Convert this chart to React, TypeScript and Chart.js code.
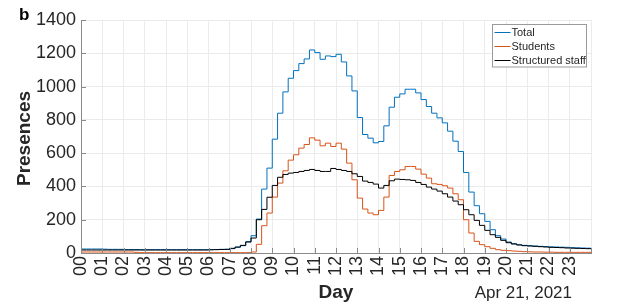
import React, { useEffect, useRef } from 'react';
import { Chart, registerables } from 'chart.js';

Chart.register(...registerables);

// ---- data (15-minute slots over one day) ----
const HOUR_LABELS = ['00','01','02','03','04','05','06','07','08','09','10','11','12','13','14','15','16','17','18','19','20','21','22','23'];
const Y_TICKS = [0, 200, 400, 600, 800, 1000, 1200, 1400];
const SERIES_NAMES = ['Total', 'Students', 'Structured staff'];
const SERIES_COLORS = ['#0072BD', '#D95319', '#000000'];
const SLOT_HOURS = 0.25;
const DATE_LABEL = 'Apr 21, 2021';
const X_TITLE = 'Day';
const Y_TITLE = 'Presences';
const PANEL_LABEL = 'b';

const TOTAL = [
  24, 24, 24, 24, 23, 22, 22, 22,
  21, 21, 21, 20, 20, 20, 20, 20,
  20, 20, 20, 20, 20, 20, 20, 20,
  21, 21, 22, 22, 26, 34, 44, 68,
  104, 204, 384, 510, 684, 840, 968, 1050,
  1096, 1138, 1166, 1220, 1204, 1164, 1184, 1180,
  1194, 1148, 1064, 974, 814, 712, 690, 662,
  670, 764, 876, 936, 956, 984, 984, 962,
  922, 880, 840, 812, 782, 732, 672, 610,
  484, 366, 284, 236, 190, 140, 104, 84,
  66, 56, 50, 46, 44, 42, 40, 39,
  37, 36, 35, 34, 32, 31, 30, 29,
];

const STUDENTS = [
  6, 6, 6, 6, 6, 6, 6, 6,
  6, 6, 4, 2, 2, 2, 2, 2,
  2, 2, 2, 2, 2, 2, 2, 2,
  2, 2, 2, 2, 2, 2, 2, 2,
  6, 52, 164, 240, 336, 420, 494, 558,
  590, 630, 652, 692, 678, 644, 660, 640,
  660, 624, 540, 440, 330, 264, 240, 230,
  256, 336, 466, 490, 500, 520, 520, 504,
  474, 450, 416, 412, 404, 390, 356, 320,
  200, 120, 70, 50, 38, 28, 20, 16,
  14, 12, 10, 8, 7, 6, 6, 5,
  5, 4, 4, 4, 4, 4, 4, 4,
];

const STAFF = [
  18, 18, 18, 18, 18, 18, 18, 18,
  18, 18, 18, 18, 18, 18, 18, 18,
  18, 18, 18, 18, 18, 18, 18, 18,
  19, 20, 21, 22, 28, 36, 46, 66,
  90, 200, 262, 335, 406, 455, 472, 480,
  484, 490, 496, 502, 496, 490, 490, 508,
  502, 496, 490, 476, 460, 432, 424, 414,
  390, 406, 434, 444, 442, 440, 436, 424,
  412, 396, 384, 372, 356, 336, 312, 290,
  260, 230, 196, 166, 136, 110, 94, 76,
  62, 54, 48, 44, 42, 40, 38, 36,
  34, 33, 32, 30, 29, 28, 27, 26,
];

const SERIES_VALUES = [TOTAL, STUDENTS, STAFF];

const FONT = "'Liberation Sans', Arial, Helvetica, sans-serif";
const TEXT_COLOR = '#262626';
const AXIS_COLOR = '#8a8a8a';
const GRID_COLOR = '#ebebeb';

function toPoints(vals: number[]) {
  const pts = vals.map((v, i) => ({ x: i * SLOT_HOURS, y: v }));
  pts.push({ x: vals.length * SLOT_HOURS, y: vals[vals.length - 1] });
  return pts;
}

const decorPlugin = {
  id: 'decor',
  afterDraw(chart: any) {
    const ctx = chart.ctx as CanvasRenderingContext2D;
    const area = chart.chartArea;
    const xs = chart.scales.x;
    const ys = chart.scales.y;
    ctx.save();

    // inward ticks
    ctx.strokeStyle = AXIS_COLOR;
    ctx.lineWidth = 1;
    ctx.beginPath();
    for (let h = 0; h <= HOUR_LABELS.length; h++) {
      const px = Math.round(xs.getPixelForValue(h)) + 0.5;
      ctx.moveTo(px, area.bottom);
      ctx.lineTo(px, area.bottom - 5);
    }
    for (const t of Y_TICKS) {
      const py = Math.round(ys.getPixelForValue(t)) + 0.5;
      ctx.moveTo(area.left, py);
      ctx.lineTo(area.left + 5, py);
    }
    ctx.stroke();

    // legend
    const lx = 492, ly = 24.5, lw = 94, lh = 42.5;
    ctx.fillStyle = '#ffffff';
    ctx.fillRect(lx, ly, lw, lh);
    ctx.strokeStyle = '#9a9a9a';
    ctx.lineWidth = 1;
    ctx.strokeRect(lx + 0.5, ly, lw, lh);
    ctx.font = `11px ${FONT}`;
    ctx.textBaseline = 'middle';
    ctx.textAlign = 'left';
    SERIES_NAMES.forEach((name, i) => {
      const cy = 32.5 + i * 14;
      ctx.strokeStyle = SERIES_COLORS[i];
      ctx.lineWidth = 1;
      ctx.beginPath();
      ctx.moveTo(494.5, cy);
      ctx.lineTo(510.5, cy);
      ctx.stroke();
      ctx.fillStyle = TEXT_COLOR;
      ctx.fillText(name, 511.5, cy + 0.5);
    });

    // texts
    ctx.fillStyle = '#000000';
    ctx.font = `bold 17px ${FONT}`;
    ctx.textAlign = 'left';
    ctx.textBaseline = 'alphabetic';
    ctx.fillText(PANEL_LABEL, 19, 20);

    ctx.fillStyle = TEXT_COLOR;
    ctx.font = `bold 19px ${FONT}`;
    ctx.textAlign = 'center';
    ctx.fillText(X_TITLE, (area.left + area.right) / 2, 298);

    ctx.save();
    ctx.translate(30, (area.top + area.bottom) / 2 + 2);
    ctx.rotate(-Math.PI / 2);
    ctx.fillText(Y_TITLE, 0, 0);
    ctx.restore();

    ctx.font = `17px ${FONT}`;
    ctx.textAlign = 'right';
    ctx.fillText(DATE_LABEL, 572, 298);

    ctx.restore();
  },
};

export default function App() {
  const ref = useRef<HTMLCanvasElement | null>(null);

  useEffect(() => {
    if (!ref.current) return;
    const chart = new Chart(ref.current, {
      type: 'line',
      data: {
        datasets: SERIES_VALUES.map((vals, i) => ({
          label: SERIES_NAMES[i],
          data: toPoints(vals),
          borderColor: SERIES_COLORS[i],
          backgroundColor: SERIES_COLORS[i],
          borderWidth: 1,
          pointRadius: 0,
          stepped: true,
          fill: false,
          order: 3 - i,
        })),
      },
      options: {
        responsive: false,
        animation: false,
        devicePixelRatio: 1,
        layout: { padding: { left: 0, right: 32, top: 20, bottom: 0 } },
        plugins: {
          legend: { display: false },
          tooltip: { enabled: false },
        },
        scales: {
          x: {
            type: 'linear',
            min: 0,
            max: 24,
            ticks: {
              stepSize: 1,
              autoSkip: false,
              maxRotation: 90,
              minRotation: 90,
              padding: 3,
              color: TEXT_COLOR,
              font: { size: 18, family: FONT },
              callback: (v: any) => {
                const n = Number(v);
                return Number.isInteger(n) && n < HOUR_LABELS.length ? HOUR_LABELS[n] : '';
              },
            },
            grid: { color: GRID_COLOR, drawTicks: false, lineWidth: 1 },
            border: { display: true, color: AXIS_COLOR, width: 1 },
            afterFit: (s: any) => {
              s.height = 51;
              s.paddingLeft = 0;
              s.paddingRight = 0;
            },
          },
          y: {
            type: 'linear',
            min: 0,
            max: 1400,
            ticks: {
              stepSize: 200,
              padding: 5,
              color: TEXT_COLOR,
              font: { size: 18, family: FONT },
              callback: (v: any) => String(v),
            },
            grid: { color: GRID_COLOR, drawTicks: false, lineWidth: 1 },
            border: { display: true, color: AXIS_COLOR, width: 1 },
            afterFit: (s: any) => {
              s.width = 81;
              s.paddingTop = 0;
              s.paddingBottom = 0;
            },
          },
        },
      },
      plugins: [decorPlugin],
    } as any);
    return () => chart.destroy();
  }, []);

  return (
    <div style={{ position: 'absolute', left: 0, top: 0, width: 623, height: 304, background: '#ffffff' }}>
      <canvas ref={ref} width={623} height={304} style={{ display: 'block' }} />
    </div>
  );
}
